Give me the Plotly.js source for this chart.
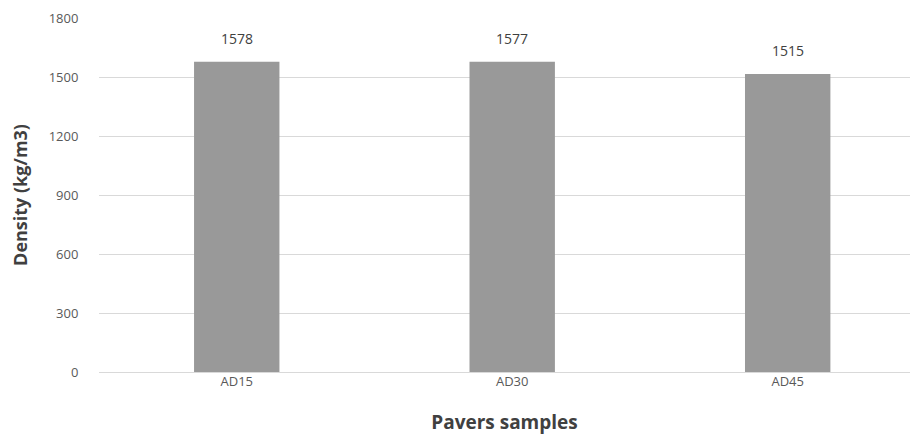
<!DOCTYPE html>
<html><head><meta charset="utf-8">
<script src="https://cdn.plot.ly/plotly-3.0.1.min.js"></script>
<style>body{margin:0;background:#fff}</style>
</head><body>
<div id="chart" style="width:910px;height:439px"></div>
<script>
const categories = ["AD15", "AD30", "AD45"];
const densities = [1578, 1577, 1515];
const yTicks = [0, 300, 600, 900, 1200, 1500, 1800];

const trace = {
  type: "bar",
  x: categories,
  y: densities,
  width: 0.31,
  marker: {color: "#999999", line: {width: 0}},
  hoverinfo: "x+y"
};
const annotations = categories.map((c, i) => ({
  x: c, y: densities[i], xref: "x", yref: "y",
  text: String(densities[i]), showarrow: false,
  yanchor: "bottom", yshift: 12,
  font: {family: "Open Sans, sans-serif", size: 14, color: "#404040"}
}));
const layout = {
  width: 910, height: 439,
  margin: {l: 99, r: 0, t: 18, b: 67},
  paper_bgcolor: "#fff", plot_bgcolor: "#fff",
  showlegend: false,
  font: {family: "Open Sans, sans-serif", color: "#595959", size: 13},
  xaxis: {
    type: "category", range: [-0.5, 2.444],
    showgrid: false, zeroline: false, showline: false,
    ticks: "", tickfont: {size: 13, color: "#595959"},
    title: {text: "<b>Pavers samples</b>", font: {size: 19, color: "#404040"}, standoff: 26}
  },
  yaxis: {
    range: [0, 1800], tickvals: yTicks, ticktext: yTicks.map(String),
    showgrid: true, gridcolor: "#d9d9d9", gridwidth: 1,
    zeroline: true, zerolinecolor: "#d9d9d9", zerolinewidth: 1,
    showline: false,
    ticks: "outside", ticklen: 17, tickcolor: "rgba(0,0,0,0)",
    tickfont: {size: 13, color: "#595959"},
    title: {text: "<b>Density (kg/m3)</b>", font: {size: 18, color: "#404040"}, standoff: 16}
  },
  annotations: annotations
};
Plotly.newPlot("chart", [trace], layout, {displayModeBar: false, staticPlot: true});
</script>
</body></html>
